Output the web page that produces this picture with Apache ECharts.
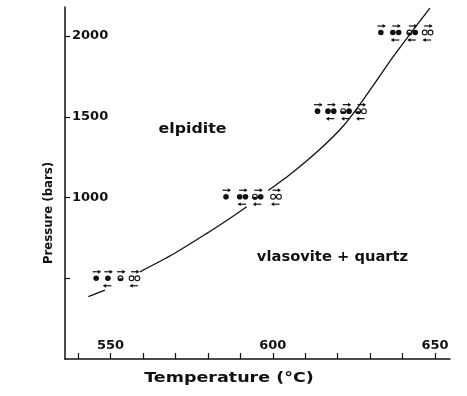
<!DOCTYPE html>
<html>
<head>
<meta charset="utf-8">
<script src="https://cdn.jsdelivr.net/npm/echarts@6/dist/echarts.min.js"></script>
<style>html,body{margin:0;padding:0;background:#fff}#c{width:467px;height:396px}</style>
</head>
<body>
<div id="c"></div>
<script>
// ---- data ----
// experiments: temperature (°C), pressure (bars), glyph kind, reverse-arrow flag
const expTemp  = [545.6, 549.2, 553.1, 557.4, 585.6, 590.7, 595.4, 601.0, 613.8, 617.9, 622.6, 627.2, 633.3, 637.9, 643.0, 647.7];
const expPress = [500, 500, 500, 500, 1005, 1005, 1005, 1005, 1535, 1535, 1535, 1535, 2022, 2022, 2022, 2022];
const kindNames = ['f', 'ff', 'h', 'hf', 'oo', 'ho'];
const expKind  = [0, 0, 2, 4, 0, 1, 3, 4, 0, 1, 3, 5, 0, 1, 3, 4];
const expBelow = [0, 1, 0, 1, 0, 1, 1, 1, 0, 1, 1, 1, 0, 1, 1, 1];

// reaction curve (three drawn segments, broken at the 500 and 1000 bar symbols)
const curveSeg1 = [[543.2, 386], [548.3, 427]];
const curveSeg2 = [[559.1, 540], [569.4, 650], [579.7, 778], [585.8, 858], [592.0, 943]];
const curveSeg3 = [[598.6, 1043], [606.3, 1158], [614.6, 1300], [621.7, 1443], [627.8, 1604], [637.1, 1872], [641.3, 1986], [648.4, 2173]];

const xTicks = [540, 550, 560, 570, 580, 590, 600, 610, 620, 630, 640, 650];
const xLabels = [550, 600, 650];
const yTicks = [500, 1000, 1500, 2000];
const yLabels = [1000, 1500, 2000];

const ink = '#111';
const fontFam = '"DejaVu Sans", sans-serif';

function arrow(x, y, dir) {
  const tip = x + 4.5 * dir;
  return {
    type: 'group',
    children: [
      { type: 'line', shape: { x1: x - 4 * dir, y1: y, x2: tip - 1 * dir, y2: y }, style: { stroke: ink, lineWidth: 1.2 } },
      { type: 'polygon', shape: { points: [[tip, y], [tip - 3.2 * dir, y - 2], [tip - 3.2 * dir, y + 2]] }, style: { fill: ink } }
    ]
  };
}

function renderItem(params, api) {
  const p = api.coord([api.value(0), api.value(1)]);
  const kind = kindNames[api.value(2)];
  const below = api.value(3);
  const r = 2.8;
  const children = [];
  const parts = kind.length === 1 ? [[0, kind[0]]] : [[-2.9, kind[0]], [2.9, kind[1]]];
  parts.forEach(function (pt) {
    const cx = p[0] + pt[0], cy = p[1], k = pt[1];
    if (k === 'f') {
      children.push({ type: 'circle', shape: { cx: cx, cy: cy, r: r }, style: { fill: ink } });
    } else if (k === 'o') {
      children.push({ type: 'circle', shape: { cx: cx, cy: cy, r: r - 0.4 }, style: { fill: '#fff', stroke: ink, lineWidth: 1.1 } });
    } else {
      children.push({ type: 'circle', shape: { cx: cx, cy: cy, r: r - 0.4 }, style: { fill: '#fff', stroke: ink, lineWidth: 1.1 } });
      children.push({ type: 'sector', shape: { cx: cx, cy: cy, r0: 0, r: r, startAngle: 0, endAngle: Math.PI }, style: { fill: ink } });
    }
  });
  children.push(arrow(p[0] + 0.5, p[1] - 6.5, 1));
  if (below) children.push(arrow(p[0] - 0.5, p[1] + 7.5, -1));
  return { type: 'group', children: children };
}

const expData = expTemp.map(function (t, i) { return [t, expPress[i], expKind[i], expBelow[i]]; });

const lineStyle = { color: ink, width: 1.3 };
function curve(data) {
  return { type: 'line', data: data, smooth: 0.25, showSymbol: false, symbol: 'none', lineStyle: lineStyle, silent: true, z: 2 };
}
function plain(v) { return String(v); }

const chart = echarts.init(document.getElementById('c'), null, { renderer: 'canvas' });
chart.setOption({
  backgroundColor: '#fff',
  animation: false,
  grid: { left: 65, right: 17, top: 7, bottom: 37, containLabel: false, outerBoundsMode: 'none' },
  xAxis: {
    type: 'value', min: 536, max: 654.6,
    axisLine: { show: true, lineStyle: { color: ink, width: 1.5 } },
    axisTick: { show: true, inside: true, length: 6, customValues: xTicks, lineStyle: { color: ink, width: 1.2 } },
    axisLabel: { inside: true, margin: 7, customValues: xLabels, formatter: plain, color: ink, fontWeight: 'bold', fontSize: 13, fontFamily: fontFam },
    splitLine: { show: false }
  },
  yAxis: {
    type: 'value', min: 0, max: 2180,
    axisLine: { show: true, lineStyle: { color: ink, width: 1.5 } },
    axisTick: { show: true, inside: true, length: 5, customValues: yTicks, lineStyle: { color: ink, width: 1.2 } },
    axisLabel: { inside: true, margin: 7, customValues: yLabels, formatter: plain, color: ink, fontWeight: 'bold', fontSize: 13, fontFamily: fontFam },
    splitLine: { show: false }
  },
  series: [
    curve(curveSeg1), curve(curveSeg2), curve(curveSeg3),
    { type: 'custom', renderItem: renderItem, data: expData, encode: { x: 0, y: 1 }, z: 3, silent: true }
  ],
  graphic: [
    { type: 'text', x: 229, y: 378, scaleX: 1.25, style: { text: 'Temperature (°C)', font: 'bold 14px ' + fontFam, fill: ink, textAlign: 'center', textVerticalAlign: 'middle' } },
    { type: 'text', x: 49, y: 213, rotation: Math.PI / 2, scaleX: 0.9, style: { text: 'Pressure (bars)', font: 'bold 13px ' + fontFam, fill: ink, textAlign: 'center', textVerticalAlign: 'middle' } },
    { type: 'text', x: 192.5, y: 129, scaleX: 1.13, style: { text: 'elpidite', font: 'bold 14px ' + fontFam, fill: ink, textAlign: 'center', textVerticalAlign: 'middle' } },
    { type: 'text', x: 332.5, y: 257, scaleX: 1.05, style: { text: 'vlasovite + quartz', font: 'bold 14px ' + fontFam, fill: ink, textAlign: 'center', textVerticalAlign: 'middle' } }
  ]
});
</script>
</body>
</html>
